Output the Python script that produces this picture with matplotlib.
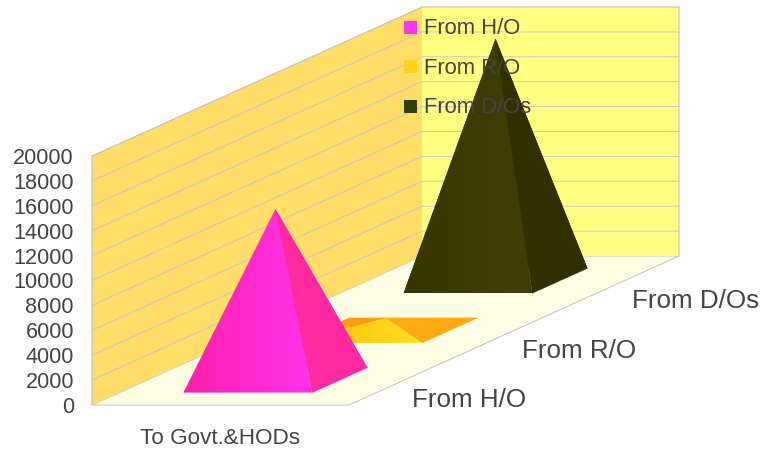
import matplotlib
matplotlib.use('Agg')
import matplotlib.pyplot as plt
import numpy as np
from matplotlib.patches import Polygon
from matplotlib.colors import LinearSegmentedColormap

plt.rcParams['font.family'] = ['Liberation Sans', 'DejaVu Sans']

category = 'To Govt.&HODs'
series_names = ['From H/O', 'From R/O', 'From D/Os']
series_values = [13700, 1000, 19400]
yticks = list(range(0, 20001, 2000))

legend_colors = ['#ff33ff', '#ffd320', '#314004']
front_left = ['#ff1fae', '#ffb80a', '#363600']
front_right = ['#ff33ea', '#ffe020', '#3f3f06']
side_colors = ['#ff2aa0', '#ffaa10', '#2f2f00']
back_colors = ['#ff2aa0', '#ff9c10', '#2f2f00']

# oblique projection, in image pixels
X0, Y0 = 92, 405
WIDTH = 257
DX, DY = 330, -149
PX_PER_UNIT = 249 / 20000

zorder = [3]


def project(x, d, v):
    return (X0 + x * WIDTH + d * DX, Y0 + d * DY - v * PX_PER_UNIT)


def face(ax, pts, c1, c2=None):
    zorder[0] += 1
    if c2 is None:
        ax.add_patch(Polygon(pts, closed=True, fc=c1, ec=c1, lw=0.3, zorder=zorder[0]))
        return
    xs = [p[0] for p in pts]
    ys = [p[1] for p in pts]
    cmap = LinearSegmentedColormap.from_list('f', [c1, c2])
    poly = Polygon(pts, closed=True, fc='none', ec='none', zorder=zorder[0])
    ax.add_patch(poly)
    im = ax.imshow(np.linspace(0, 1, 64).reshape(1, -1), cmap=cmap, aspect='auto',
                   extent=(min(xs), max(xs), max(ys), min(ys)), zorder=zorder[0])
    im.set_clip_path(poly)


fig = plt.figure(figsize=(7.62, 4.53), dpi=100)
ax = fig.add_axes([0, 0, 1, 1])

# walls and floor
top = yticks[-1]
ax.add_patch(Polygon([project(0, 0, 0), project(1, 0, 0), project(1, 1, 0), project(0, 1, 0)],
                     fc='#ffffe6', ec='#c0c0c0', lw=0.7, zorder=1))
ax.add_patch(Polygon([project(0, 0, 0), project(0, 1, 0), project(0, 1, top), project(0, 0, top)],
                     fc='#ffdd66', ec='none', zorder=1))
ax.add_patch(Polygon([project(0, 1, 0), project(1, 1, 0), project(1, 1, top), project(0, 1, top)],
                     fc='#ffff80', ec='none', zorder=1))
# outer edges of the walls
outline = [project(0, 0, 0), project(0, 0, top), project(0, 1, top), project(1, 1, top), project(1, 1, 0)]
ax.plot([p[0] for p in outline], [p[1] for p in outline], color='#c0c0c0', lw=0.8, zorder=2)
for v in yticks[1:-1]:
    pts = [project(0, 0, v), project(0, 1, v), project(1, 1, v)]
    ax.plot([p[0] for p in pts], [p[1] for p in pts], color='#c8c8c8', lw=0.7, zorder=2)

for v in yticks:
    x, y = project(0, 0, v)
    ax.text(x - 18, y + 2.5, str(v), ha='right', va='center', fontsize=15.6, color='#444444')

# pyramids, back to front
for i in [2, 1, 0]:
    v = series_values[i]
    d0 = i / 3 + 0.25 / 3
    d1 = i / 3 + 0.75 / 3
    fl, fr = project(0.25, d0, 0), project(0.75, d0, 0)
    bl, br = project(0.25, d1, 0), project(0.75, d1, 0)
    apex = project(0.5, (d0 + d1) / 2, v)
    face(ax, [bl, br, apex], back_colors[i])
    face(ax, [fl, bl, apex], back_colors[i])
    face(ax, [fr, br, apex], side_colors[i])
    face(ax, [fl, fr, apex], front_left[i], front_right[i])

# depth labels
for i, name in enumerate(series_names):
    x, y = project(1, (i + 0.5) / 3, 0)
    ax.text(x + 8, y + 20, name, ha='left', va='center', fontsize=18.7, color='#444444')

ax.text(220, 438, category, ha='center', va='center', fontsize=16.2, color='#444444')

# legend
for i, name in enumerate(series_names):
    y = 27 + i * 39.5
    ax.add_patch(Polygon([(403.5, y - 6.5), (416.5, y - 6.5), (416.5, y + 6.5), (403.5, y + 6.5)],
                         fc=legend_colors[i], ec='none', zorder=50))
    ax.text(424, y + 1.5, name, ha='left', va='center', fontsize=15.8, color='#444444', zorder=50)

ax.set_xlim(0, 762)
ax.set_ylim(453, 0)
ax.axis('off')

fig.savefig('out.png', dpi=100)
